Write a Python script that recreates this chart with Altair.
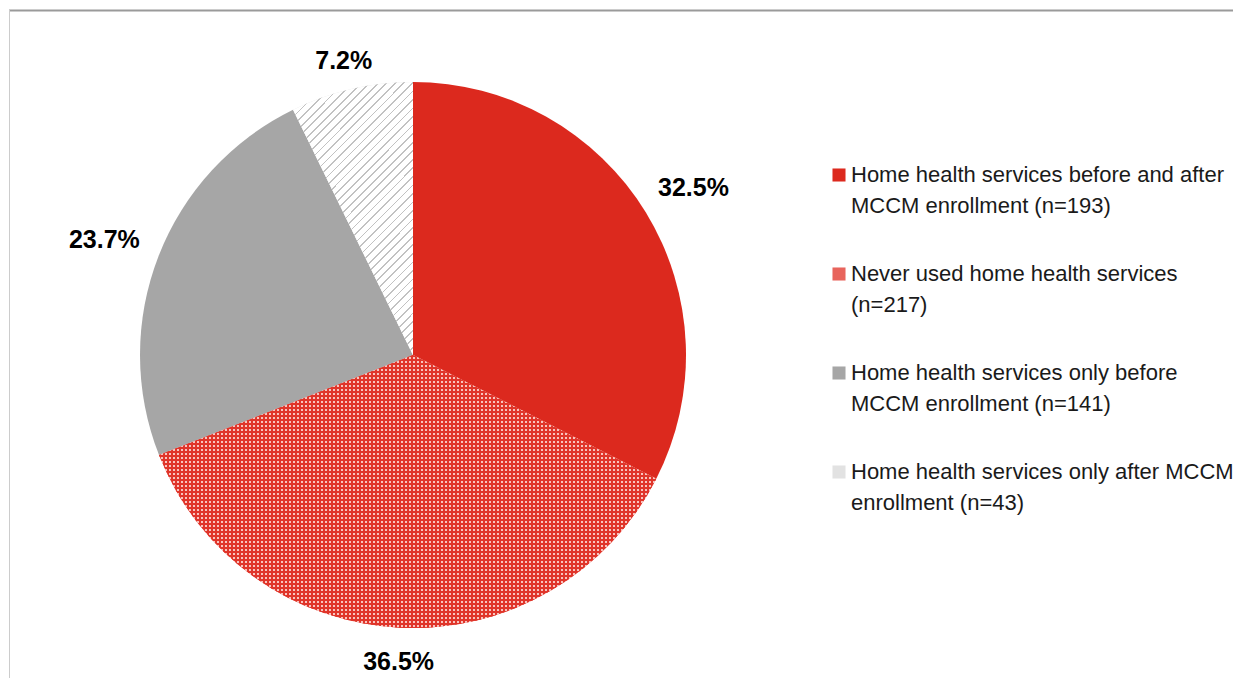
import math
import altair as alt
import pandas as pd

# ---- data ----
categories = [
    "Home health services before and after\nMCCM enrollment (n=193)",
    "Never used home health services\n(n=217)",
    "Home health services only before\nMCCM enrollment (n=141)",
    "Home health services only after MCCM\nenrollment (n=43)",
]
counts = [193, 217, 141, 43]
legend_colors = ["#dc291e", "#e8645c", "#a6a6a6", "#e2e2e2"]

W, H = 1225, 670
CX, CY, R = 405, 347, 273
FONT = "Liberation Sans, Arial"

df = pd.DataFrame({"category": categories, "count": counts, "idx": list(range(len(counts)))})


def stripes(c1, c2, period, frac):
    """Hard-stop stripes with a given period in gradient-offset units."""
    stops = []
    i = 0
    while i * period < 1:
        a = min(1, round(i * period, 6))
        b = min(1, round((i + frac) * period, 6))
        c = min(1, round((i + 1) * period, 6))
        stops += [
            {"offset": a, "color": c1},
            {"offset": b, "color": c1},
            {"offset": b, "color": c2},
            {"offset": c, "color": c2},
        ]
        i += 1
    return stops


# bounding box of the "never used" wedge (for pixel-sized pattern period)
tot = sum(counts)
a0 = 2 * math.pi * counts[0] / tot
a1 = 2 * math.pi * (counts[0] + counts[1]) / tot
bbox_w = R * (math.sin(a0) - math.sin(a1))
bbox_h = R
P = 4.0

grad_h = {"gradient": "linear", "x1": 0, "y1": 0, "x2": 0, "y2": 1,
          "stops": stripes("#e0352a", "#f8c4bf", P / bbox_h, 0.45)}
grad_v = {"gradient": "linear", "x1": 0, "y1": 0, "x2": 1, "y2": 0,
          "stops": stripes("#e0352a", "rgba(255,255,255,0)", P / bbox_w, 0.45)}
grad_d = {"gradient": "linear", "x1": 0, "y1": 0, "x2": 0.531, "y2": 1.2065,
          "stops": stripes("#c2c2c2", "#ffffff", 1 / 46, 0.2)}

theta_scale = alt.Scale(domain=[0, 1], range=[0, 2 * math.pi])

base = alt.Chart(df).transform_joinaggregate(
    total="sum(count)"
).transform_window(
    cum="sum(count)", sort=[alt.SortField("idx")], frame=[None, 0]
).transform_calculate(
    start="(datum.cum - datum.count) / datum.total",
    end="datum.cum / datum.total",
    mid="(datum.cum - datum.count / 2) / datum.total",
    pct="datum.count / datum.total",
)

arcs = base.mark_arc(outerRadius=R, stroke="transparent").encode(
    theta=alt.Theta("start:Q", scale=theta_scale),
    theta2="end:Q",
    color=alt.Color(
        "category:N",
        scale=alt.Scale(domain=categories, range=legend_colors),
        legend=alt.Legend(
            title=None,
            orient="none",
            legendX=820,
            legendY=156,
            symbolType="square",
            symbolSize=170,
            symbolStrokeWidth=0,
            labelFont=FONT,
            labelFontSize=22,
            labelColor="#1a1a1a",
            labelLimit=500,
            labelOffset=1,
            rowPadding=46,
            labelExpr="split(datum.label, '\\n')",
        ),
    ),
    x=alt.value(CX),
    y=alt.value(CY),
)

over_h = base.transform_filter("datum.idx == 1").mark_arc(outerRadius=R, fill=grad_h).encode(
    theta=alt.Theta("start:Q", scale=theta_scale), theta2="end:Q",
    x=alt.value(CX), y=alt.value(CY),
)
over_v = base.transform_filter("datum.idx == 1").mark_arc(outerRadius=R, fill=grad_v).encode(
    theta=alt.Theta("start:Q", scale=theta_scale), theta2="end:Q",
    x=alt.value(CX), y=alt.value(CY),
)
over_d = base.transform_filter("datum.idx == 3").mark_arc(outerRadius=R, fill=grad_d).encode(
    theta=alt.Theta("start:Q", scale=theta_scale), theta2="end:Q",
    x=alt.value(CX), y=alt.value(CY),
)

labels = base.transform_calculate(
    label="format(datum.pct, '.1%')",
).transform_calculate(
    labelR=f"{R} + 24 + 7 * length(datum.label) * abs(sin(datum.mid * 2 * PI)) + 4 * abs(cos(datum.mid * 2 * PI))"
).mark_text(font=FONT, fontSize=25, fontWeight="bold", color="#000000",
            baseline="middle", align="center", dy=5).encode(
    theta=alt.Theta("mid:Q", scale=theta_scale),
    radius=alt.Radius("labelR:Q", scale=None),
    text="label:N",
    x=alt.value(CX),
    y=alt.value(CY),
)

frame_df = pd.DataFrame({"k": [0]})
top_line = alt.Chart(frame_df).mark_rule(color="#9a9a9a", strokeWidth=2).encode(
    x=alt.value(1), x2=alt.value(W), y=alt.value(2.5)
)
left_line = alt.Chart(frame_df).mark_rule(color="#cccccc", strokeWidth=1).encode(
    x=alt.value(1.5), y=alt.value(2), y2=alt.value(H)
)

chart = alt.layer(arcs, over_h, over_v, over_d, labels, top_line, left_line).properties(
    width=W, height=H, padding=0
)
chart = chart.configure(style={"guide-label": {"lineHeight": 31}}).configure_view(stroke="transparent")

chart.save("out.html", embed_options={"renderer": "svg", "actions": False})
